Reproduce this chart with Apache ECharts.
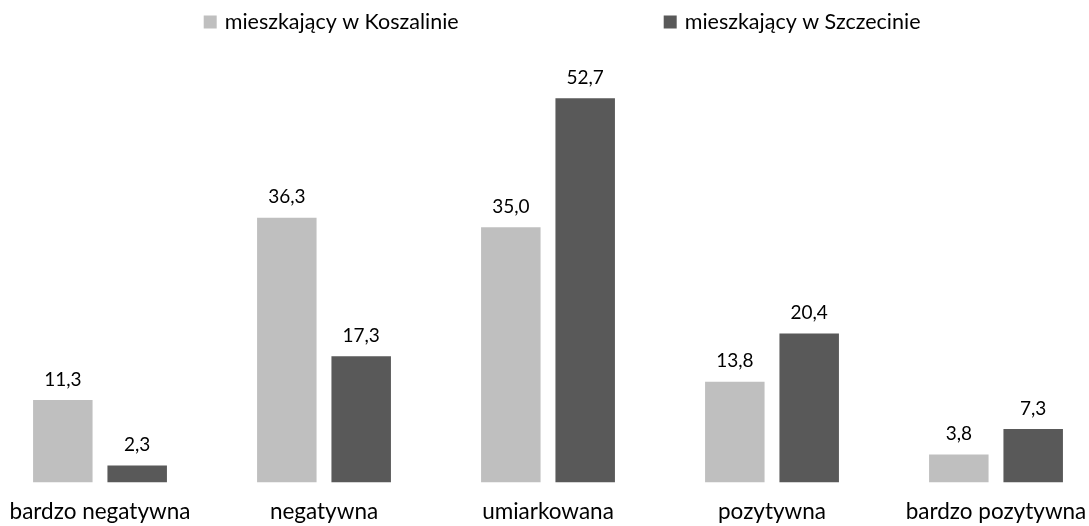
<!DOCTYPE html>
<html>
<head>
<meta charset="utf-8">
<style>
  html, body { margin: 0; padding: 0; background: #ffffff; overflow: hidden; }
  body { width: 1089px; height: 526px; position: relative; }
  /* plot area is a little wider than the window so the outer groups sit close to the edges */
  #chart { position: absolute; left: -11.7px; top: 0; width: 1119.9px; height: 526px; }
</style>
<script src="https://cdn.jsdelivr.net/npm/echarts@6/dist/echarts.min.js"></script>
</head>
<body>
<div id="chart"></div>
<script>
// Ocena (rating categories) and share of respondents, in %
const categories = ['bardzo negatywna', 'negatywna', 'umiarkowana', 'pozytywna', 'bardzo pozytywna'];
const seriesNames = ['mieszkający w Koszalinie', 'mieszkający w Szczecinie'];
const koszalin = [11.3, 36.3, 35.0, 13.8, 3.8];
const szczecin = [2.3, 17.3, 52.7, 20.4, 7.3];

const FONT = 'Lato, "Noto Sans", sans-serif';
const LIGHT = '#bfbfbf';
const DARK = '#595959';
const SHIFT = 11.7; // offset of the chart container

const fmt = v => v.toFixed(1).replace('.', ',');

const chart = echarts.init(document.getElementById('chart'), null, { renderer: 'canvas' });

const legendBase = {
  top: 11,
  padding: 0,
  icon: 'rect',
  itemWidth: 13,
  itemHeight: 13,
  textStyle: { fontFamily: FONT, fontSize: 21.5, color: '#000', padding: [0, 0, 0, 3] },
  selectedMode: false
};

const barSeries = (name, data, color) => ({
  name: name,
  type: 'bar',
  data: data,
  barWidth: 59.5,
  barGap: '25%',
  itemStyle: { color: color },
  label: {
    show: true,
    position: 'top',
    distance: 11,
    fontFamily: FONT,
    fontSize: 19,
    color: '#000',
    formatter: p => fmt(p.value)
  }
});

chart.setOption({
  animation: false,
  legend: [
    Object.assign({}, legendBase, { left: 204 + SHIFT, data: [seriesNames[0]] }),
    Object.assign({}, legendBase, { left: 664 + SHIFT, data: [seriesNames[1]] })
  ],
  grid: { left: 0, right: 0, top: 45, bottom: 43.7, containLabel: false },
  xAxis: {
    type: 'category',
    data: categories,
    axisLine: { show: false },
    axisTick: { show: false },
    axisLabel: { fontFamily: FONT, fontSize: 22.5, color: '#000', margin: 18, interval: 0 }
  },
  yAxis: {
    type: 'value',
    min: 0,
    max: 60,
    show: false,
    splitLine: { show: false }
  },
  series: [
    barSeries(seriesNames[0], koszalin, LIGHT),
    barSeries(seriesNames[1], szczecin, DARK)
  ]
});
</script>
</body>
</html>
